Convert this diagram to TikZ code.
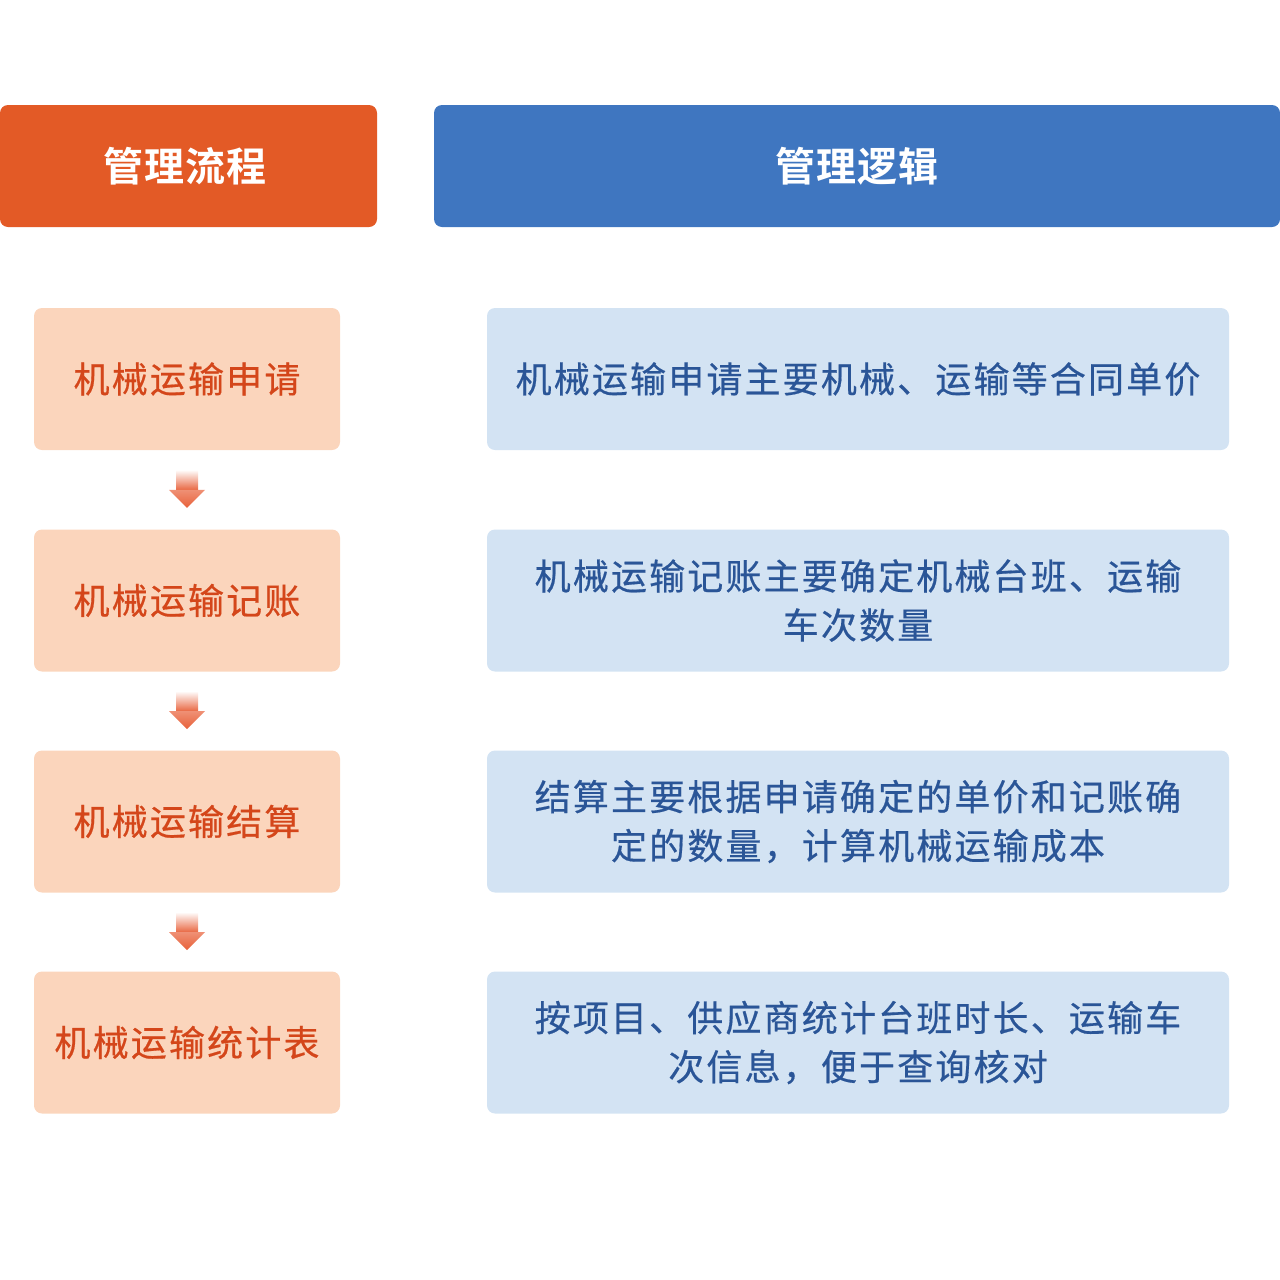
\documentclass[tikz,border=0pt]{standalone}
\usepackage{fontspec}
\usetikzlibrary{positioning}
\newfontfamily\cjk[LetterSpace=6,FakeBold=0.5]{Noto Sans CJK SC}
\newfontfamily\cjkhead[LetterSpace=2.5]{Noto Sans CJK SC Bold}
\definecolor{headorange}{HTML}{E35A26}
\definecolor{headblue}{HTML}{3F76C0}
\definecolor{stepfill}{HTML}{FBD5BC}
\definecolor{steptext}{HTML}{D4461A}
\definecolor{logicfill}{HTML}{D3E3F3}
\definecolor{logictext}{HTML}{2A5597}
\definecolor{arrowc}{HTML}{E8613A}

\begin{document}
\begin{tikzpicture}[x=0.5pt,y=-0.5pt]

\tikzset{headbox/.style = {rounded corners=4pt,minimum height=61pt,inner sep=0pt,text=white,font=\cjkhead\fontsize{20}{24}\selectfont}}
\tikzset{stepbox/.style = {rounded corners=4pt,fill=stepfill,minimum width=153pt,minimum height=71pt,inner sep=0pt,text=steptext,font=\cjk\fontsize{18}{24.5}\selectfont}}
\tikzset{logicbox/.style = {rounded corners=4pt,fill=logicfill,minimum width=371pt,minimum height=71pt,inner sep=0pt,align=center,text=logictext,font=\cjk\fontsize{18}{24.5}\selectfont}}
\useasboundingbox (0,0) rectangle (1280,1280);
% headers
\node[headbox,fill=headorange,minimum width=188.5pt] (flow) at (188.5,166) {管理流程\hspace*{4pt}};
\node[headbox,fill=headblue,minimum width=423pt] (logic) at (857,166) {管理逻辑};
% steps
\node[stepbox] (s1) at (187,379) {机械运输申请};
\node[stepbox] (s2) at (187,600.5) {机械运输记账};
\node[stepbox] (s3) at (187,821.5) {机械运输结算};
\node[stepbox] (s4) at (187,1042.5) {机械运输统计表};
% logic
\node[logicbox] (l1) at (858,379) {机械运输申请主要机械、运输等合同单价};
\node[logicbox] (l2) at (858,600.5) {机械运输记账主要确定机械台班、运输\\车次数量};
\node[logicbox] (l3) at (858,821.5) {结算主要根据申请确定的单价和记账确\\定的数量，计算机械运输成本};
\node[logicbox] (l4) at (858,1042.5) {按项目、供应商统计台班时长、运输车\\次信息，便于查询核对};
% arrows
\foreach \a/\b in {s1/s2,s2/s3,s3/s4}{
  \path (\a.south) -- (\b.north) coordinate[midway] (m\a);
  \shade[top color=white,bottom color=arrowc] ([shift={(-11,-20)}]m\a) rectangle ([shift={(11,1)}]m\a);
  \shade[top color=arrowc!70!white,bottom color=arrowc] ([shift={(-18,0)}]m\a) -- ([shift={(18,0)}]m\a) -- ([shift={(0,18)}]m\a) -- cycle;
}
\end{tikzpicture}
\end{document}
